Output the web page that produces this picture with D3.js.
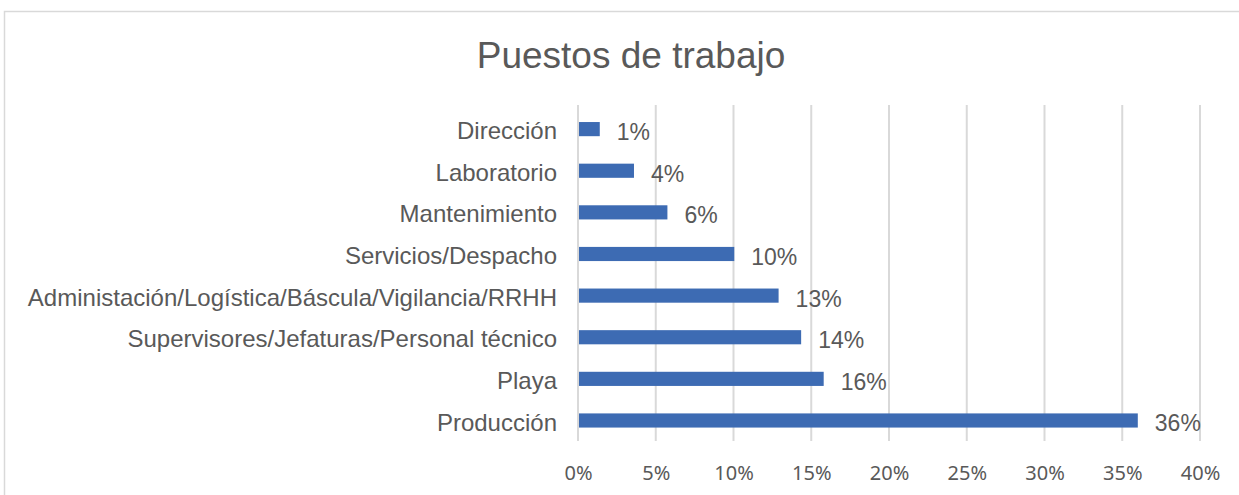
<!DOCTYPE html>
<html>
<head>
<meta charset="utf-8">
<script src="https://cdn.jsdelivr.net/npm/d3@7"></script>
<style>
    body { margin: 0; background: #fff; }
    text { font-family: "Liberation Sans", Arial, sans-serif; fill: #595959; }
</style>
</head>
<body>
<div id="chart"></div>
<script>
// categories top to bottom, values in percent
var puestos = [
    "Dirección",
    "Laboratorio",
    "Mantenimiento",
    "Servicios/Despacho",
    "Administación/Logística/Báscula/Vigilancia/RRHH",
    "Supervisores/Jefaturas/Personal técnico",
    "Playa",
    "Producción"
]
var porcentajes = [1.4, 3.6, 5.75, 10.05, 12.9, 14.35, 15.8, 36.0]
var etiquetas = ["1%", "4%", "6%", "10%", "13%", "14%", "16%", "36%"]
var ticks = [0, 5, 10, 15, 20, 25, 30, 35, 40]

function drawBarChart(selector){
    var width = 1239, height = 495;
    var margin = {left: 578, right: 39, top: 108.3, bottom: 53.7}

    d3.select(selector).html(null)

    var svg = d3.select(selector)
        .append("svg")
        .attr("width", width)
        .attr("height", height)

    // chart area border
    svg.append("rect")
        .attr("x", 4.5).attr("y", 11.5)
        .attr("width", width).attr("height", height)
        .attr("fill", "none")
        .attr("stroke", "#d9d9d9")
        .attr("stroke-width", 1.5)

    svg.append("text")
        .attr("x", 631).attr("y", 68)
        .attr("text-anchor", "middle")
        .style("font-size", "37px")
        .text("Puestos de trabajo")

    var x = d3.scaleLinear()
        .domain([0, 40])
        .range([margin.left, width - margin.right])

    var y = d3.scaleBand()
        .domain(puestos)
        .range([margin.top, height - margin.bottom])
        .paddingInner(0.66)
        .paddingOuter(0.33)

    // vertical gridlines
    svg.append("g").selectAll("line")
        .data(ticks).enter().append("line")
        .attr("x1", function(d){ return x(d) })
        .attr("x2", function(d){ return x(d) })
        .attr("y1", 105)
        .attr("y2", 441)
        .attr("stroke", "#d9d9d9")
        .attr("stroke-width", 2)

    // x axis labels
    var xAxis = d3.axisBottom(x)
        .tickValues(ticks)
        .tickSize(0)
        .tickPadding(0)
        .tickFormat(function(d){ return d + "%" })

    var gx = svg.append("g")
        .attr("transform", "translate(0," + (height - 15) + ")")
        .call(xAxis)
    gx.select(".domain").remove()
    gx.selectAll("text")
        .attr("dy", 0)
        .style("font-size", "20px")
        .style("font-family", "'Noto Sans', 'Open Sans', sans-serif")
        .style("fill", "#595959")

    // category labels
    var yAxis = d3.axisLeft(y).tickSize(0).tickPadding(21)
    var gy = svg.append("g")
        .attr("transform", "translate(" + margin.left + ",0)")
        .call(yAxis)
    gy.select(".domain").remove()
    gy.selectAll("text")
        .attr("dy", "0.42em")
        .style("font-size", "24px")
        .style("font-family", "'Liberation Sans', Arial, sans-serif")
        .style("fill", "#595959")

    // bars
    svg.append("g").selectAll("rect")
        .data(porcentajes).enter().append("rect")
        .attr("x", x(0) + 1)
        .attr("y", function(d, i){ return y(puestos[i]) })
        .attr("width", function(d){ return x(d) - x(0) - 1 })
        .attr("height", y.bandwidth())
        .attr("fill", "#3d6bb3")

    // data labels
    svg.append("g").selectAll("text")
        .data(porcentajes).enter().append("text")
        .attr("x", function(d){ return x(d) + 17 })
        .attr("y", function(d, i){ return y(puestos[i]) + y.bandwidth() / 2 + 11 })
        .style("font-size", "23px")
        .text(function(d, i){ return etiquetas[i] })
}

drawBarChart("#chart")
</script>
</body>
</html>
